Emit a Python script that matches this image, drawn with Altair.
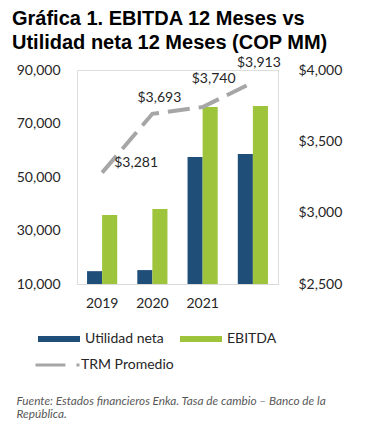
import altair as alt
import pandas as pd

# ---- data ----
years = ["2019", "2020", "2021", " "]
utilidad_neta = [14800, 15200, 57500, 58600]
ebitda = [35800, 38000, 76200, 76500]
trm_promedio = [3281, 3693, 3740, 3913]

series_bars = ["Utilidad neta", "EBITDA"]
series_line = ["TRM Promedio"]
bar_colors = ["#1F4E79", "#9DC43A"]
line_color = "#A6A6A6"

left_ticks = [10000, 30000, 50000, 70000, 90000]
right_ticks = [2500, 3000, 3500, 4000]

title_lines = ["Gráfica 1. EBITDA 12 Meses vs", "Utilidad neta 12 Meses (COP MM)"]
footnote_lines = ["Fuente: Estados financieros Enka. Tasa de cambio – Banco de la",
                  "República."]

# ---- tables ----
bars_df = pd.DataFrame({
    "year": years * 2,
    "serie": [series_bars[0]] * len(years) + [series_bars[1]] * len(years),
    "value": utilidad_neta + ebitda,
})
line_df = pd.DataFrame({"year": years, "trm": trm_promedio,
                        "serie": series_line * len(years)})

FONT = "Lato"
TXT = "#262626"

x_enc = alt.X("year:N", sort=years,
              scale=alt.Scale(paddingInner=0.4, paddingOuter=0.2),
              axis=alt.Axis(labelAngle=0, ticks=False, domainColor="#D9D9D9",
                            labelFont=FONT, labelFontSize=14, labelColor=TXT,
                            labelPadding=12, grid=False,
                            title=footnote_lines, titleX=-61, titleY=111,
                            titleAlign="left", titleBaseline="top",
                            titleFont=FONT, titleFontSize=11.8,
                            titleFontStyle="italic", titleFontWeight="normal",
                            titleColor="#595959", titleLineHeight=13.8))

bars = alt.Chart(bars_df).mark_bar().encode(
    x=x_enc,
    xOffset=alt.XOffset("serie:N", sort=series_bars,
                        scale=alt.Scale(paddingInner=0, paddingOuter=0)),
    y=alt.Y("value:Q", title=None,
            scale=alt.Scale(domain=[10000, 90000], zero=False, nice=False),
            axis=alt.Axis(values=left_ticks, format=",.0f", ticks=False,
                          domain=False, grid=False, labelFont=FONT,
                          labelFontSize=14, labelColor=TXT, labelPadding=17)),
    y2=alt.datum(10000),
    color=alt.Color("serie:N", title=None,
                    scale=alt.Scale(domain=series_bars, range=bar_colors),
                    legend=alt.Legend(orient="none", legendX=-40, legendY=262,
                                      columns=2, columnPadding=15,
                                      symbolType="M-1,-0.143H1V0.143H-1Z",
                                      symbolSize=1764, symbolOpacity=1,
                                      clipHeight=14, labelOffset=4,
                                      labelFont=FONT, labelFontSize=14,
                                      labelColor=TXT)),
)

y_trm = alt.Y("trm:Q", title=None,
              scale=alt.Scale(domain=[2500, 4000], zero=False, nice=False),
              axis=alt.Axis(values=right_ticks, format="$,.0f", ticks=False,
                            domain=False, grid=False, orient="right",
                            labelFont=FONT, labelFontSize=14, labelColor=TXT,
                            labelPadding=20))

# visible dashed line
line = alt.Chart(line_df).mark_line(strokeWidth=4, strokeDash=[22, 9],
                                    color=line_color).encode(
    x=x_enc,
    y=y_trm,
)

# legend carrier: a one-point line (draws nothing) that owns the TRM legend
line_key = alt.Chart(line_df).transform_filter(
    alt.datum.year == years[0]
).mark_line(strokeWidth=3).encode(
    x=x_enc,
    y=y_trm,
    stroke=alt.Stroke("serie:N", title=None,
                      scale=alt.Scale(domain=series_line, range=[line_color]),
                      legend=alt.Legend(orient="none", legendX=-43, legendY=288,
                                        symbolType="M-1,0H0.36M0.86,0H1",
                                        symbolSize=1936,
                                        symbolStrokeWidth=3,
                                        clipHeight=14, labelOffset=0,
                                        labelFont=FONT, labelFontSize=14,
                                        labelColor=TXT)),
)

# label offsets as placed in the reference (style only)
label_offsets = [(34, -10), (7, -16), (11, -28), (6, -19)]
texts = []
for yr, (ddx, ddy) in zip(years, label_offsets):
    texts.append(
        alt.Chart(line_df).transform_filter(alt.datum.year == yr)
        .mark_text(dx=ddx, dy=ddy, font=FONT, fontSize=14, color=TXT,
                   align="center", baseline="middle")
        .encode(x=x_enc, y=y_trm, text=alt.Text("trm:Q", format="$,.0f"))
    )

right = alt.layer(line, line_key, *texts)

chart = alt.layer(bars, right).resolve_scale(y="independent").properties(
    width=201, height=214,
    title=alt.TitleParams(title_lines, anchor="start", font="Liberation Sans",
                          fontSize=20, fontWeight="bold", color="black",
                          lineHeight=24, dx=-4, offset=3),
    autosize=alt.AutoSizeParams(type="none"),
    padding={"left": 69, "top": 62, "right": 83, "bottom": 138},
).configure_view(stroke=None).configure(background="white")

chart.save("out.html", embed_options={"renderer": "svg", "actions": False})
